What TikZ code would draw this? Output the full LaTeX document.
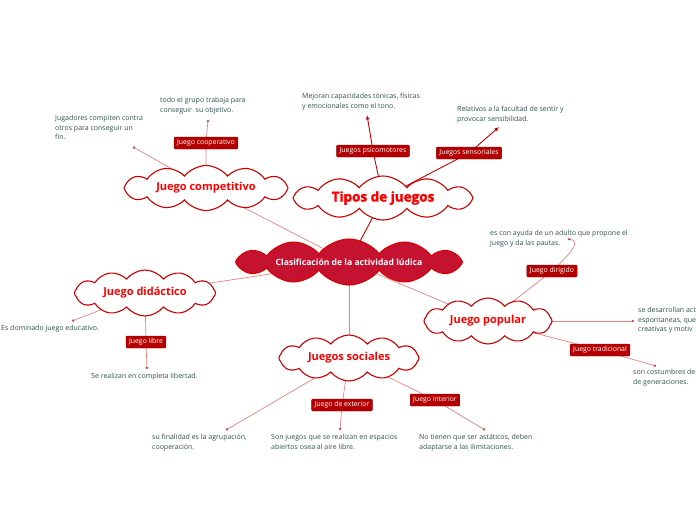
\documentclass[tikz,border=0pt]{standalone}
\usepackage{fontspec}
\setmainfont{Open Sans}
\newfontfamily\heavyfont[BoldFeatures={FakeBold=2}]{Open Sans}
\usetikzlibrary{arrows.meta,shapes.symbols,backgrounds}
\definecolor{mapred}{RGB}{200,0,0}
\definecolor{tagred}{RGB}{180,0,0}
\definecolor{linkpink}{RGB}{228,130,130}
\definecolor{notegray}{RGB}{45,80,80}
\definecolor{hubred}{RGB}{196,18,48}

\begin{document}
\begin{tikzpicture}[x=1pt, y=-1pt,
    topic/.style={cloud, cloud puffs=12, cloud puff arc=105, cloud ignores aspect, draw=mapred, line width=1.1pt, fill=white, text=red, font=\fontsize{11}{12}\selectfont\bfseries, inner sep=0pt},
    tag/.style={draw=tagred!80!black, fill=tagred, rounded corners=1pt, text=white, font=\fontsize{6.9}{8}\selectfont, inner xsep=3pt, inner ysep=2pt, minimum height=12pt},
    note/.style={anchor=north west, align=left, text=notegray, font=\fontsize{7}{9.7}\selectfont, inner sep=0pt},
    link/.style={draw=linkpink, line width=0.7pt},
    linkend/.style={link, -{Circle[length=2.4pt, color=mapred!75]}},
    arr/.style={draw=mapred, line width=0.9pt, -{Latex[length=4.5pt, width=4pt]}}
]
\useasboundingbox (0,0) rectangle (696,520);
\clip (0,0) rectangle (696,520);

% clouds
\node[topic, minimum width=180pt, minimum height=44pt, font=\heavyfont\fontsize{13.5}{14}\selectfont\bfseries] (tj) at (383,198) {Tipos de juegos};
\node[topic, fill=hubred, draw=red!85!black, text=white, font=\fontsize{8.6}{9}\selectfont\bfseries, minimum width=227pt, minimum height=46pt] (cc) at (349,262) {Clasificación de la actividad lúdica};
\node[topic, minimum width=164pt, minimum height=45pt] (jc) at (206,188) {Juego competitivo};
\node[topic, minimum width=141pt, minimum height=46pt] (jd) at (145,293) {Juego didáctico};
\node[topic, minimum width=128pt, minimum height=46pt] (jp) at (488,321) {Juego popular};
\node[topic, minimum width=140pt, minimum height=46pt] (js) at (349,358) {Juegos sociales};

% tags
\node[tag] (coop) at (206,143) {Juego cooperativo};
\node[tag] (psico) at (373,151) {Juegos psicomotores};
\node[tag] (sens) at (469,153) {Juegos sensoriales};
\node[tag] (dir) at (552,271) {Juego dirigido};
\node[tag] (libre) at (146,342) {Juego libre};
\node[tag] (trad) at (600,350) {Juego tradicional};
\node[tag] (ext) at (342,405) {Juego de exterior};
\node[tag] (int) at (435,400) {Juego interior};

% notes
\node[note] (nCoop) at (160,97) {todo el grupo trabaja para\\conseguir\ \ su objetivo.};
\node[note] (nComp) at (55,115) {Jugadores compiten contra\\otros para conseguir un\\fin.};
\node[note] (nPsico) at (302,93) {Mejoran capacidades tónicas, físicas\\y emocionales como el tono.};
\node[note] (nSens) at (457,106) {Relativos a la facultad de sentir y\\provocar sensibilidad.};
\node[note] (nDir) at (490,230) {es con ayuda de un adulto que propone el\\juego y da las pautas.};
\node[note] (nPop) at (638,307) {se desarrollan act\\espontaneas, que\\creativas y motiv};
\node[note] (nTrad) at (633,369) {son costumbres de\\de generaciones.};
\node[note] (nDid) at (1,325) {Es dominado juego educativo.};
\node[note] (nLibre) at (91,373) {Se realizan en completa libertad.};
\node[note] (nFin) at (152,434) {su finalidad es la agrupación,\\cooperación.};
\node[note] (nExt) at (271,434) {Son juegos que se realizan en espacios\\abiertos osea al aire libre.};
\node[note] (nInt) at (419,434) {No tienen que ser astáticos, deben\\adaptarse a las ilimitaciones.};

% free ends
\coordinate (eCoop) at (208,120);
\coordinate (eComp) at (133,147);
\coordinate (ePsico) at (367,115);
\coordinate (eSens) at (499,127);
\coordinate (eDir) at (568,239);
\coordinate (ePop) at (635,321);
\coordinate (eTrad) at (656,366);
\coordinate (eDid) at (72,321);
\coordinate (eLibre) at (147,369);
\coordinate (eFin) at (226,430);
\coordinate (eExt) at (340,430);
\coordinate (eInt) at (485,430);

\begin{scope}[on background layer]
\draw[arr, -] (cc.center) -- (tj.center);
\draw[link] (cc.center) -- (jc.center);
\draw[link] (cc.center) -- (jd.center);
\draw[link] (cc.center) -- (jp.center);
\draw[link] (cc.center) -- (js.center);
\draw[arr] (tj.center) -- (psico.center) -- (ePsico);
\draw[arr] (tj.center) -- (sens.center) -- (eSens);
\draw[linkend] (jc.center) -- (coop.center) -- (eCoop);
\draw[linkend] (jc.center) -- (eComp);
\draw[linkend] (jd.center) -- (eDid);
\draw[linkend] (jd.center) -- (libre.center) -- (eLibre);
\draw[linkend] (jp.center) -- (dir.center) .. controls (570,254) and (582,241) .. (eDir);
\draw[link, -{Latex[length=3pt, width=2.5pt, color=mapred!75]}] (jp.center) -- (ePop);
\draw[linkend] (jp.center) -- (trad.center) -- (eTrad);
\draw[linkend] (js.center) -- (eFin);
\draw[linkend] (js.center) -- (ext.center) -- (eExt);
\draw[linkend] (js.center) -- (int.center) -- (eInt);
\end{scope}
\end{tikzpicture}
\end{document}
